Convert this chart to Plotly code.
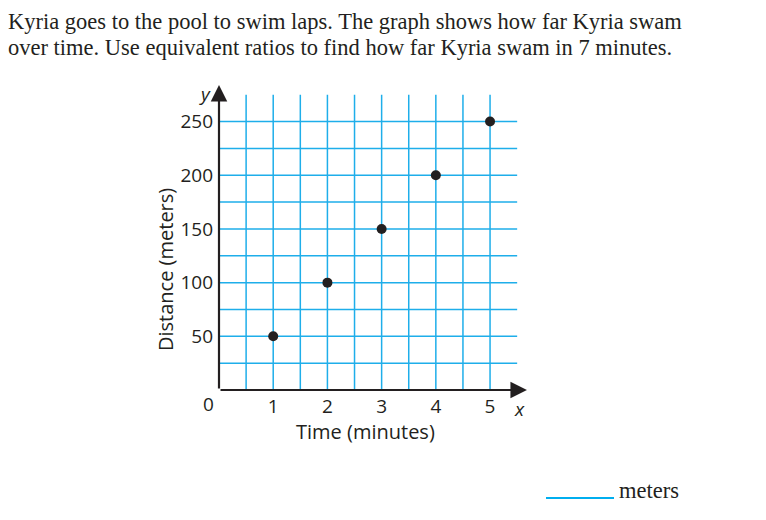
import numpy as np
import plotly.graph_objects as go

minutes = [1, 2, 3, 4, 5]
meters = [50, 100, 150, 200, 250]
x_ticks = [1, 2, 3, 4, 5]
y_ticks = [50, 100, 150, 200, 250]

question = ["Kyria goes to the pool to swim laps. The graph shows how far Kyria swam",
            "over time. Use equivalent ratios to find how far Kyria swam in 7 minutes."]

# the page body adds an 8px margin, so the figure is 16px smaller than the window
OFF = 8
W, H = 750, 504
L, R, T, B = 211, 230, 76, 122
XMAX, YMAX = 5.7, 285
GRID = '#1eaeea'
INK = '#231f20'
SANS = 'Open Sans'
SERIF = 'Liberation Serif'


def px(x):
    return (x - OFF - L) / (W - L - R)


def py(y):
    return (H - B - (y - OFF)) / (H - T - B)


def label(x, y, text, size, font=SANS, **kw):
    fig.add_annotation(x=px(x), y=py(y), xref='paper', yref='paper', text=text,
                       showarrow=False, xanchor=kw.pop('xanchor', 'center'),
                       yanchor='middle', font=dict(family=font, size=size, color=INK), **kw)


fig = go.Figure()

# grid: vertical lines every half minute, horizontal every 25 m
for gx in np.arange(0.5, 5.01, 0.5):
    fig.add_shape(type='line', x0=gx, x1=gx, y0=0, y1=275,
                  line=dict(color=GRID, width=1.5), layer='below')
for gy in np.arange(25, 251, 25):
    fig.add_shape(type='line', x0=0, x1=5.5, y0=gy, y1=gy,
                  line=dict(color=GRID, width=1.5), layer='below')

fig.add_trace(go.Scatter(
    x=minutes, y=meters, mode='markers',
    marker=dict(size=10, color=INK),
    cliponaxis=False, hoverinfo='skip'
))

# axes with arrowheads
for tip in [(5.68, 0), (0, 284)]:
    fig.add_annotation(x=tip[0], y=tip[1], ax=0, ay=0,
                       xref='x', yref='y', axref='x', ayref='y', text='',
                       showarrow=True, arrowhead=2, arrowsize=1.5, arrowwidth=2.2,
                       arrowcolor=INK)

label(208, 404, '0', 19)
label(519, 409, '<i>x</i>', 19)
label(205, 94, '<i>y</i>', 19)
label(365, 431, 'Time (minutes)', 20)
label(165, 270, 'Distance (meters)', 20, textangle=-90)

label(6, 21, question[0], 22.5, font=SERIF, xanchor='left')
label(6, 48, question[1], 22.5, font=SERIF, xanchor='left')

fig.add_shape(type='line', xref='paper', yref='paper',
              x0=px(546), x1=px(614), y0=py(498), y1=py(498),
              line=dict(color='#00aeef', width=2))
label(617, 490, 'meters', 22.5, font=SERIF, xanchor='left')

fig.update_layout(
    width=W, height=H,
    margin=dict(l=L, r=R, t=T, b=B),
    plot_bgcolor='white', paper_bgcolor='white',
    showlegend=False,
    xaxis=dict(range=[0, XMAX], tickvals=x_ticks, showgrid=False, zeroline=False,
               showline=False, ticks='', ticklabelstandoff=3,
               tickfont=dict(family=SANS, size=19, color=INK)),
    yaxis=dict(range=[0, YMAX], tickvals=y_ticks, showgrid=False, zeroline=False,
               showline=False, ticks='', ticklabelstandoff=5,
               tickfont=dict(family=SANS, size=19, color=INK)),
)

fig.write_html("out.html")
